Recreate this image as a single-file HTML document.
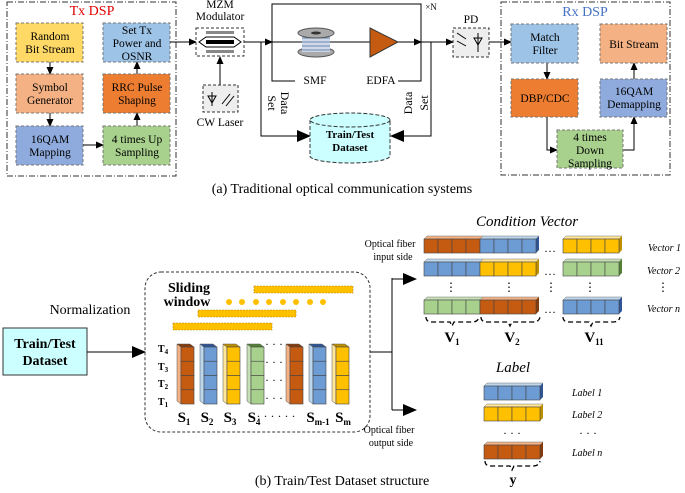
<!DOCTYPE html>
<html><head><meta charset="utf-8"><style>
body{margin:0;background:#fff}
svg{display:block}
svg text{font-family:"Liberation Serif","Times New Roman",serif}
</style></head><body>
<svg id="s" width="685" height="493" viewBox="0 0 685 493" xmlns="http://www.w3.org/2000/svg">
<defs>
<marker id="a" markerWidth="8" markerHeight="8" refX="7" refY="4" orient="auto" markerUnits="userSpaceOnUse"><path d="M0,0.5 L8,4 L0,7.5z" fill="#000"/></marker>
<marker id="b" markerWidth="14" markerHeight="12" refX="13" refY="6" orient="auto" markerUnits="userSpaceOnUse"><path d="M0,0 L14,6 L0,12z" fill="#000"/></marker>
</defs>
<g font-size="11.5" text-anchor="middle" font-family="Liberation Serif, serif">
<rect x="7" y="2" width="169" height="174" fill="none" stroke="#333" stroke-dasharray="6,2,1,2"/>
<text x="92" y="15" fill="#e00000" font-size="14">Tx DSP</text>
<g stroke="#777" stroke-dasharray="3,2">
<rect x="16" y="23" width="67" height="39" fill="#FFD966"/>
<rect x="16" y="74" width="67" height="39" fill="#F4B183"/>
<rect x="16" y="126" width="67" height="39" fill="#8FAADC"/>
<rect x="103" y="23" width="67" height="39" fill="#9DC3E6"/>
<rect x="103" y="74" width="67" height="39" fill="#ED7D31"/>
<rect x="103" y="126" width="67" height="39" fill="#A9D18E"/>
</g>
<text x="50" y="40">Random</text><text x="50" y="53">Bit Stream</text>
<text x="50" y="91">Symbol</text><text x="50" y="104">Generator</text>
<text x="50" y="143">16QAM</text><text x="50" y="156">Mapping</text>
<text x="137" y="34">Set Tx</text><text x="137" y="47">Power and</text><text x="137" y="60">OSNR</text>
<text x="137" y="91">RRC Pulse</text><text x="137" y="104">Shaping</text>
<text x="137" y="143">4 times Up</text><text x="137" y="156">Sampling</text>
<g stroke="#000" fill="none" marker-end="url(#a)">
<line x1="50" y1="62" x2="50" y2="74"/><line x1="50" y1="113" x2="50" y2="126"/>
<line x1="83" y1="145" x2="103" y2="145"/>
<line x1="137" y1="126" x2="137" y2="113"/><line x1="137" y1="74" x2="137" y2="62"/>
<line x1="170" y1="42" x2="196" y2="42"/>
<line x1="220" y1="85" x2="220" y2="57"/>
<line x1="244" y1="42" x2="272" y2="42"/>
<line x1="398" y1="42" x2="421" y2="42"/>
<line x1="421" y1="42" x2="453" y2="42"/>
<line x1="489" y1="42" x2="511" y2="42"/>
<line x1="547" y1="63" x2="547" y2="79"/>
<polyline points="547,117 547,150 557,150"/>
<polyline points="623,150 634,150 634,117"/>
<line x1="634" y1="79" x2="634" y2="63"/>
</g>
<g stroke="#000" fill="none">
<line x1="272" y1="42" x2="370" y2="42"/>
<polyline points="295,81 272,81 272,4 421,4 421,81 398,81"/>
</g>
<g stroke="#000" fill="none" marker-end="url(#b)">
<polyline points="261,42 261,136 310,136"/>
<polyline points="431,42 431,136 391,136"/>
</g>
<text x="220" y="8">MZM</text><text x="220" y="20">Modulator</text>
<rect x="196" y="28" width="48" height="28" fill="#fff" stroke="#333" stroke-dasharray="3,2"/>
<rect x="206" y="31" width="28" height="3" fill="#888"/><rect x="206" y="50" width="28" height="3" fill="#888"/>
<polygon points="199,42 206,37 234,37 241,42 234,47 206,47" fill="#fff" stroke="#000"/>
<rect x="206" y="40" width="28" height="4" fill="#000"/>
<rect x="203" y="85" width="35" height="27" fill="#eee" stroke="#333" stroke-dasharray="3,2"/>
<path d="M212,92 L212,106 M208,96 L216,96 L212,103z M222,104 L230,94 M226,106 L234,96" stroke="#000" fill="none"/>
<text x="220" y="126">CW Laser</text>
<ellipse cx="316" cy="52" rx="18" ry="5" fill="#aaa" stroke="#555"/>
<rect x="302" y="34" width="28" height="18" fill="#cfd8e6"/>
<g stroke="#4a6fa5" stroke-width="0.8"><line x1="302" y1="38" x2="330" y2="38"/><line x1="302" y1="42" x2="330" y2="42"/><line x1="302" y1="46" x2="330" y2="46"/><line x1="302" y1="50" x2="330" y2="50"/></g>
<ellipse cx="316" cy="33" rx="18" ry="5" fill="#aaa" stroke="#555"/>
<ellipse cx="316" cy="33" rx="5" ry="1.5" fill="#333"/>
<text x="315" y="84">SMF</text>
<polygon points="370,28 398,42 370,57" fill="#C55A11" stroke="#333"/>
<text x="381" y="84">EDFA</text>
<text x="431" y="10" font-size="9">×N</text>
<text x="471" y="23">PD</text>
<rect x="453" y="28" width="36" height="29" fill="#eee" stroke="#333" stroke-dasharray="3,2"/>
<path d="M457,33 L466,39 M457,41 L466,46 M478,33 L478,52 M474,38 L482,38 L478,45z" stroke="#000" fill="none"/>
<text transform="translate(268,103) rotate(90)" font-size="12">Set</text>
<text transform="translate(281,103) rotate(90)" font-size="12">Data</text>
<text transform="translate(412,103) rotate(-90)" font-size="12">Data</text>
<text transform="translate(428,103) rotate(-90)" font-size="12">Set</text>
<path d="M310,120 L310,156 A40,7 0 0 0 390,156 L390,120" fill="#CCFFFF" stroke="#333" stroke-dasharray="4,2"/>
<ellipse cx="350" cy="120" rx="40" ry="7" fill="#CCFFFF" stroke="#333" stroke-dasharray="4,2"/>
<text x="350" y="138" font-weight="bold" font-size="11">Train/Test</text>
<text x="350" y="151" font-weight="bold" font-size="11">Dataset</text>
<rect x="501" y="2" width="169" height="173" fill="none" stroke="#333" stroke-dasharray="6,2,1,2"/>
<text x="585" y="16" fill="#4472C4" font-size="14">Rx DSP</text>
<g stroke="#777" stroke-dasharray="3,2">
<rect x="511" y="24" width="67" height="39" fill="#9DC3E6"/>
<rect x="511" y="79" width="67" height="38" fill="#ED7D31"/>
<rect x="557" y="130" width="66" height="38" fill="#A9D18E"/>
<rect x="600" y="79" width="67" height="38" fill="#8FAADC"/>
<rect x="600" y="24" width="67" height="39" fill="#F4B183"/>
</g>
<text x="545" y="41">Match</text><text x="545" y="54">Filter</text>
<text x="545" y="102">DBP/CDC</text>
<text x="590" y="141">4 times</text><text x="590" y="154">Down</text><text x="590" y="167">Sampling</text>
<text x="634" y="95">16QAM</text><text x="634" y="108">Demapping</text>
<text x="634" y="48">Bit Stream</text>
<text x="342" y="193" font-size="14">(a) Traditional optical communication systems</text>
<text x="90" y="314" font-size="14">Normalization</text>
<rect x="3" y="328" width="84" height="47" fill="#CCFFFF" stroke="#333"/>
<text x="45" y="348" font-weight="bold" font-size="14">Train/Test</text>
<text x="45" y="365" font-weight="bold" font-size="14">Dataset</text>
<line x1="87" y1="352" x2="145" y2="352" stroke="#000" marker-end="url(#b)"/>
<rect x="145" y="272" width="225" height="160" rx="16" fill="none" stroke="#333" stroke-dasharray="3,2"/>
<text x="189" y="292" font-weight="bold" font-size="14">Sliding</text>
<text x="187" y="306" font-weight="bold" font-size="14">window</text>
<g fill="#FFC000" stroke="#b08000" stroke-dasharray="2,1" stroke-width="0.6">
<rect x="254" y="286" width="99" height="7"/><rect x="198" y="310" width="98" height="7"/><rect x="173" y="323" width="99" height="7"/>
</g>
<g fill="#FFC000"><circle cx="229" cy="302" r="3"/><circle cx="242" cy="302" r="3"/><circle cx="256" cy="302" r="3"/><circle cx="269" cy="302" r="3"/><circle cx="283" cy="302" r="3"/><circle cx="296" cy="302" r="3"/><circle cx="310" cy="302" r="3"/><circle cx="323" cy="302" r="3"/></g>
<g font-weight="bold" font-size="10"><text x="163" y="352">T<tspan font-size="7" dy="2">4</tspan></text><text x="163" y="370">T<tspan font-size="7" dy="2">3</tspan></text><text x="163" y="387">T<tspan font-size="7" dy="2">2</tspan></text><text x="163" y="405">T<tspan font-size="7" dy="2">1</tspan></text></g>
<g id="cols"></g>
<g font-size="12">
<text x="274" y="348">· · ·</text><text x="274" y="366">· · ·</text><text x="274" y="384">· · ·</text><text x="274" y="402">· · ·</text>
<text x="276" y="420">· · ·  · · ·</text></g>
<g font-weight="bold" font-size="15">
<text x="184" y="422">S<tspan font-size="9" dy="3">1</tspan></text>
<text x="207" y="422">S<tspan font-size="9" dy="3">2</tspan></text>
<text x="230" y="422">S<tspan font-size="9" dy="3">3</tspan></text>
<text x="254" y="422">S<tspan font-size="9" dy="3">4</tspan></text>
<text x="318" y="422">S<tspan font-size="9" dy="3">m-1</tspan></text>
<text x="343" y="422">S<tspan font-size="9" dy="3">m</tspan></text>
</g>
<g stroke="#000" fill="none"><line x1="370" y1="352" x2="392" y2="352"/><line x1="392" y1="278" x2="392" y2="410"/></g>
<g stroke="#000" fill="none" marker-end="url(#b)"><line x1="392" y1="279" x2="416" y2="279"/><line x1="392" y1="410" x2="416" y2="410"/></g>
<g font-size="10"><text x="390" y="247">Optical fiber</text><text x="393" y="260">input side</text>
<text x="389" y="433">Optical fiber</text><text x="391" y="446">output side</text></g>
<text x="527" y="226" font-style="italic" font-size="15">Condition Vector</text>
<g id="vecs"></g>
<g font-size="12"><text x="550" y="252">…</text><text x="550" y="275">…</text><text x="550" y="313">…</text>
<text x="451" y="291">⋮</text><text x="509" y="291">⋮</text><text x="551" y="291">⋮</text><text x="590" y="291">⋮</text><text x="663" y="291">⋮</text></g>
<g font-style="italic" font-size="10" text-anchor="start"><text x="648" y="251">Vector 1</text><text x="647" y="274">Vector 2</text><text x="647" y="312">Vector n</text>
<text x="572" y="396">Label 1</text><text x="572" y="418">Label 2</text><text x="572" y="456">Label n</text></g>
<g stroke="#000" fill="none" stroke-dasharray="5,3" stroke-width="1.3">
<path d="M426,317 Q426,322 432,322 L450,322 L452,326 L454,322 L472,322 Q478,322 479,317"/>
<path d="M481,317 Q481,322 487,322 L508,322 L510,326 L512,322 L533,322 Q539,322 540,317"/>
<path d="M563,317 Q563,322 569,322 L589,322 L591,326 L593,322 L613,322 Q619,322 620,317"/>
<path d="M485,461 Q485,466 491,466 L510,466 L512,470 L514,466 L533,466 Q539,466 540,461"/>
</g>
<g font-weight="bold" font-size="15"><text x="452" y="342">V<tspan font-size="9" dy="3">1</tspan></text><text x="512" y="342">V<tspan font-size="9" dy="3">2</tspan></text><text x="594" y="342">V<tspan font-size="9" dy="3">11</tspan></text>
<text x="513" y="484" font-size="14">y</text></g>
<text x="513" y="372" font-style="italic" font-size="15">Label</text>
<g font-size="12"><text x="512" y="437">· · ·</text><text x="588" y="437">· · ·</text></g>
<text x="342" y="485" font-size="14">(b) Train/Test Dataset structure</text>
</g>
</svg>
<script>
var C={o:["#C55A11","#F4B183","#843C0C"],b:["#6D9BD3","#BDD7EE","#2F5597"],y:["#FFC000","#FFE699","#BF9000"],g:["#A9D18E","#C5E0B4","#548235"]};
var NS="http://www.w3.org/2000/svg";
function el(p,t,a){var e=document.createElementNS(NS,t);for(var k in a)e.setAttribute(k,a[k]);p.appendChild(e);return e;}
var cols=document.getElementById("cols");
[[181,"o"],[204,"b"],[227,"y"],[251,"g"],[290,"o"],[313,"b"],[336,"y"]].forEach(function(c){
 var x=c[0],k=C[c[1]],w=13,t=347,h=57,d=4;
 el(cols,"polygon",{points:(x-d)+","+(t-3)+" "+x+","+t+" "+x+","+(t+h)+" "+(x-d)+","+(t+h-3),fill:k[1],stroke:"#555","stroke-width":0.5});
 el(cols,"polygon",{points:(x-d)+","+(t-3)+" "+(x+w-d)+","+(t-3)+" "+(x+w)+","+t+" "+x+","+t,fill:k[2],stroke:"#555","stroke-width":0.5});
 for(var i=0;i<4;i++)el(cols,"rect",{x:x,y:t+i*h/4,width:w,height:h/4,fill:k[0],stroke:"#444","stroke-width":0.6});
});
var vecs=document.getElementById("vecs");
function row(x,y,n,col){var k=C[col],w=14,h=14,d=3;
 el(vecs,"polygon",{points:(x)+","+y+" "+(x+d)+","+(y-d)+" "+(x+n*w+d)+","+(y-d)+" "+(x+n*w)+","+y,fill:k[1],stroke:"#777","stroke-width":0.5});
 el(vecs,"polygon",{points:(x+n*w)+","+y+" "+(x+n*w+d)+","+(y-d)+" "+(x+n*w+d)+","+(y+h-d)+" "+(x+n*w)+","+(y+h),fill:k[2]});
 for(var i=0;i<n;i++)el(vecs,"rect",{x:x+i*w,y:y,width:w,height:h,fill:k[0],stroke:"#444","stroke-width":0.6});}
row(424,239,4,"o");row(480,239,4,"b");row(563,239,4,"y");
row(424,262,4,"b");row(480,262,4,"y");row(563,262,4,"g");
row(424,300,4,"g");row(480,300,4,"o");row(563,300,4,"b");
row(484,386,4,"b");row(484,407,4,"y");row(484,445,4,"o");
</script>
</body></html>
